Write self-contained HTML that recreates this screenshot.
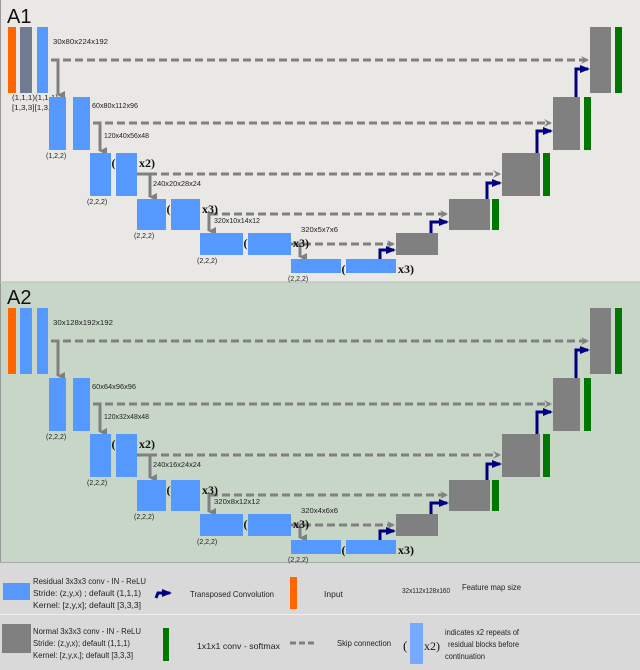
<!DOCTYPE html>
<html><head><meta charset="utf-8">
<style>
html,body{margin:0;padding:0;background:#fff;}
svg{display:block;font-family:"Liberation Sans",sans-serif;}
.s{font-size:7.5px;fill:#222;}
.b{font-family:"Liberation Serif",serif;font-weight:bold;font-size:12px;fill:#111;}
.l{font-size:8.5px;fill:#222;}
</style></head>
<body>
<svg id="fig" width="640" height="670" viewBox="0 0 640 670">
<defs>
<marker id="gh" markerWidth="8" markerHeight="8" refX="6" refY="4" orient="auto" markerUnits="userSpaceOnUse"><path d="M0,0 L8,4 L0,8 L3,4 Z" fill="#808080"/></marker>
<marker id="dh" markerWidth="8" markerHeight="8" refX="4" refY="7" orient="auto" markerUnits="userSpaceOnUse"><path d="M0,0 L8,0 L4,8 Z" fill="#808080"/></marker>
<marker id="nh" markerWidth="10" markerHeight="8" refX="8" refY="4" orient="auto" markerUnits="userSpaceOnUse"><path d="M0,0 L10,4 L0,8 Z" fill="#000080"/></marker>
</defs>
<rect x="0" y="0" width="640" height="282" fill="#e9e8e4"/>
<rect x="0" y="282" width="640" height="280" fill="#c8d6c8"/>
<line x1="0.5" y1="0" x2="0.5" y2="562" stroke="#999" stroke-width="1"/>
<line x1="0" y1="282" x2="640" y2="282" stroke="#bbb" stroke-width="1"/>
<rect x="0" y="562" width="640" height="108" fill="#d9d9d9"/>
<line x1="0" y1="562.5" x2="640" y2="562.5" stroke="#aaa"/>
<line x1="0" y1="614.5" x2="640" y2="614.5" stroke="#eee"/>
<g id="panels"></g>

<g>
<rect x="3" y="583" width="27" height="17" fill="#5599ff"/>
<text class="l" x="33" y="584" textLength="113" lengthAdjust="spacingAndGlyphs">Residual 3x3x3 conv - IN - ReLU</text>
<text class="l" x="33" y="596" textLength="108" lengthAdjust="spacingAndGlyphs">Stride: (z,y,x) ; default (1,1,1)</text>
<text class="l" x="33" y="608" textLength="108" lengthAdjust="spacingAndGlyphs">Kernel: [z,y,x]; default [3,3,3]</text>
<path d="M156,598 L158,593 L170,593" fill="none" stroke="#000080" stroke-width="3" marker-end="url(#nh)"/>
<text class="l" x="190" y="597" textLength="84" lengthAdjust="spacingAndGlyphs">Transposed Convolution</text>
<rect x="290" y="577" width="7" height="32" fill="#ff6600"/>
<text class="l" x="324" y="597">Input</text>
<text x="402" y="593" textLength="48" lengthAdjust="spacingAndGlyphs" style="font-size:7px;fill:#222">32x112x128x160</text>
<text class="l" x="462" y="590" textLength="59" lengthAdjust="spacingAndGlyphs">Feature map size</text>
<rect x="2" y="624" width="29" height="29" fill="#808080"/>
<text class="l" x="33" y="634" textLength="108" lengthAdjust="spacingAndGlyphs">Normal 3x3x3 conv - IN - ReLU</text>
<text class="l" x="33" y="646" textLength="97" lengthAdjust="spacingAndGlyphs">Stride: (z,y,x); default (1,1,1)</text>
<text class="l" x="33" y="658" textLength="100" lengthAdjust="spacingAndGlyphs">Kernel: [z,y,x,]; default [3,3,3]</text>
<rect x="163" y="628" width="6" height="33" fill="#007700"/>
<text class="l" x="197" y="649" textLength="83" lengthAdjust="spacingAndGlyphs">1x1x1 conv - softmax</text>
<line x1="290" y1="643" x2="317" y2="643" stroke="#808080" stroke-width="3" stroke-dasharray="6,3"/>
<text class="l" x="337" y="646" textLength="54" lengthAdjust="spacingAndGlyphs">Skip connection</text>
<text x="403" y="650" style="font-family:'Liberation Serif',serif;font-size:13px;fill:#111">(</text>
<rect x="410" y="623" width="13" height="41" fill="#77aaff"/>
<text x="424" y="650" style="font-family:'Liberation Serif',serif;font-size:12px;fill:#111">x2)</text>
<text class="l" x="445" y="635" textLength="74" lengthAdjust="spacingAndGlyphs">indicates x2 repeats of</text>
<text class="l" x="448" y="647" textLength="71" lengthAdjust="spacingAndGlyphs">residual blocks before</text>
<text class="l" x="445" y="659" textLength="40" lengthAdjust="spacingAndGlyphs">continuation</text>
</g>
</svg>
<script>
const panelNames = ["A1", "A2"];
const panelOffsets = [0, 281];
const shapesA1 = ["30x80x224x192","60x80x112x96","120x40x56x48","240x20x28x24","320x10x14x12","320x5x7x6"];
const shapesA2 = ["30x128x192x192","60x64x96x96","120x32x48x48","240x16x24x24","320x8x12x12","320x4x6x6"];
const stridesA1 = ["(1,2,2)","(2,2,2)","(2,2,2)","(2,2,2)","(2,2,2)"];
const stridesA2 = ["(2,2,2)","(2,2,2)","(2,2,2)","(2,2,2)","(2,2,2)"];
const repeats = [null, null, "x2)", "x3)", "x3)", "x3)"];

const NS = "http://www.w3.org/2000/svg";
const root = document.getElementById("panels");
function mk(tag, attrs, parent, txt) {
  const e = document.createElementNS(NS, tag);
  for (const k in attrs) e.setAttribute(k, attrs[k]);
  if (txt !== undefined) e.textContent = txt;
  parent.appendChild(e);
  return e;
}
const enc = [
  {x1:49,x2:73,w:17,y:97,h:53},
  {x1:90,x2:116,w:21,y:153,h:43},
  {x1:137,x2:171,w:29,y:199,h:31},
  {x1:200,x2:248,w:43,y:233,h:22},
  {x1:291,x2:346,w:50,y:259,h:14}
];
const dec = [
  {x:590,w:21,y:27,h:66,gx:615,ax:576,ay:69},
  {x:553,w:27,y:97,h:53,gx:584,ax:537,ay:131},
  {x:502,w:38,y:153,h:43,gx:543,ax:487,ay:183},
  {x:449,w:41,y:199,h:31,gx:492,ax:431,ay:222},
  {x:396,w:42,y:233,h:22,gx:null,ax:380,ay:250}
];
const skipY = [60,123,174,214,244];
const skipX = [51,93,137,210,291];
const downX = [58,100,150,209,300];
const shapePos = [[53,44],[92,108],[104,138],[153,186],[214,223],[301,232]];
const shapeW = [[55,46,45,48,46,37],[60,44,45,48,46,37]];

panelNames.forEach((name, pi) => {
  const dy = panelOffsets[pi];
  const shapes = pi === 0 ? shapesA1 : shapesA2;
  const strides = pi === 0 ? stridesA1 : stridesA2;
  const g = mk("g", {transform:"translate(0," + dy + ")"}, root);
  
  
  const t = mk("text", {x:7, y:23, style:"font-size:20px;fill:#111"}, g, name);
  
  
  const r0 = mk("rect", {x:8,y:27,width:8,height:66,fill:"#ff6600"}, g);
  
  
  const r1 = mk("rect", {x:20,y:27,width:12,height:66,fill: pi===0 ? "#707a90" : "#5599ff"}, g);
  
  
  const r2 = mk("rect", {x:37,y:27,width:11,height:66,fill:"#5599ff"}, g);
  
  
  if (pi === 0) {
    mk("text", {class:"s", x:12, y:100, textLength:46, lengthAdjust:"spacingAndGlyphs"}, g, "(1,1,1)(1,1,1)");
    mk("text", {class:"s", x:12, y:110, textLength:45, lengthAdjust:"spacingAndGlyphs"}, g, "[1,3,3][1,3,3]");
  }
  skipY.forEach((y, i) => {
    const d = dec[i];
    const ln = mk("line", {x1:skipX[i], y1:y, x2:d.x - 3, y2:y, stroke:"#808080", "stroke-width":3, "stroke-dasharray":"8,4", "marker-end":"url(#gh)"}, g);
    
    
    const e = enc[i];
    const dn = mk("path", {d:"M" + (skipX[i]) + "," + y + " L" + downX[i] + "," + y + " L" + downX[i] + "," + (e.y - 2), fill:"none", stroke:"#808080", "stroke-width":3, "marker-end":"url(#dh)"}, g);
    
    
  });
  enc.forEach((e, i) => {
    const a = mk("rect", {x:e.x1, y:e.y, width:e.w, height:e.h, fill:"#5599ff"}, g);
    
    
    const b = mk("rect", {x:e.x2, y:e.y, width:e.w, height:e.h, fill:"#5599ff"}, g);
    
    
    const st = mk("text", {class:"s", x:e.x1 - 3, y:e.y + e.h + 8, style:"font-size:7px"}, g, strides[i]);
    
    
    const rep = repeats[i + 1];
    if (rep) {
      mk("text", {class:"b", x:e.x1 + e.w + 0.5, y:e.y + 14}, g, "(");
      const rt = mk("text", {class:"b", x:e.x2 + e.w + 2, y:e.y + 14}, g, rep);
      
      
    }
  });
  shapes.forEach((s, i) => {
    const st = mk("text", {class:"s", x:shapePos[i][0], y:shapePos[i][1], textLength:shapeW[pi][i], lengthAdjust:"spacingAndGlyphs"}, g, s);
    
    
  });
  dec.forEach((d, i) => {
    const r = mk("rect", {x:d.x, y:d.y, width:d.w, height:d.h, fill:"#808080"}, g);
    
    
    const baseY = i === 4 ? 259 : dec[i + 1].y;
    const p = mk("path", {d:"M" + d.ax + "," + baseY + " L" + d.ax + "," + d.ay + " L" + (d.x - 2) + "," + d.ay, fill:"none", stroke:"#000080", "stroke-width":3, "marker-end":"url(#nh)"}, g);
    
    
    if (d.gx !== null) {
      const gr = mk("rect", {x:d.gx, y:d.y, width:7, height:d.h, fill:"#007700"}, g);
      
      
    }
  });
});
</script>
</body></html>
